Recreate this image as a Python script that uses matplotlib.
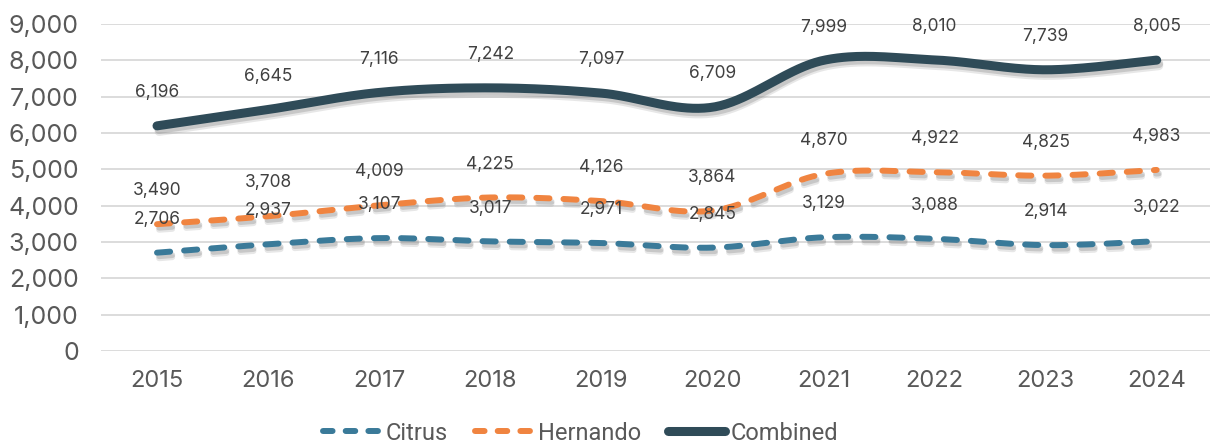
import numpy as np
import matplotlib
matplotlib.use("Agg")
import matplotlib.pyplot as plt
import matplotlib.patheffects as pe
from matplotlib.lines import Line2D

years = ["2015", "2016", "2017", "2018", "2019", "2020", "2021", "2022", "2023", "2024"]
citrus = [2706, 2937, 3107, 3017, 2971, 2845, 3129, 3088, 2914, 3022]
hernando = [3490, 3708, 4009, 4225, 4126, 3864, 4870, 4922, 4825, 4983]
combined = [6196, 6645, 7116, 7242, 7097, 6709, 7999, 8010, 7739, 8005]

plt.rcParams['font.family'] = ['Inter', 'DejaVu Sans']
text_col = '#595959'


# Excel-like smoothed line: cubic bezier segments with catmull-rom control points
def smooth(x, y, n=40):
    x = np.asarray(x, float)
    y = np.asarray(y, float)
    xs, ys = [], []
    for i in range(len(x) - 1):
        p0 = (x[max(i - 1, 0)], y[max(i - 1, 0)])
        p1 = (x[i], y[i])
        p2 = (x[i + 1], y[i + 1])
        p3 = (x[min(i + 2, len(x) - 1)], y[min(i + 2, len(x) - 1)])
        c1 = (p1[0] + (p2[0] - p0[0]) / 6, p1[1] + (p2[1] - p0[1]) / 6)
        c2 = (p2[0] - (p3[0] - p1[0]) / 6, p2[1] - (p3[1] - p1[1]) / 6)
        t = np.linspace(0, 1, n, endpoint=(i == len(x) - 2))
        a, b, c, d = (1 - t) ** 3, 3 * (1 - t) ** 2 * t, 3 * (1 - t) * t ** 2, t ** 3
        xs.append(a * p1[0] + b * c1[0] + c * c2[0] + d * p2[0])
        ys.append(a * p1[1] + b * c1[1] + c * c2[1] + d * p2[1])
    return np.concatenate(xs), np.concatenate(ys)


fig = plt.figure(figsize=(12.1, 4.48), dpi=100)
ax = fig.add_axes([0.0835, 0.2165, 0.9165, 0.73])

x = np.arange(len(years))
shadow = [pe.SimpleLineShadow(offset=(1.5, -4), shadow_color='#a0a0a0', alpha=0.25),
          pe.SimpleLineShadow(offset=(1.5, -2.5), shadow_color='#808080', alpha=0.3),
          pe.Normal()]

series = [
    ("Citrus", citrus, '#3A7A99', 4.3, (0, (2.2, 2.35))),
    ("Hernando", hernando, '#F08440', 4.3, (0, (2.2, 2.35))),
    ("Combined", combined, '#2F4B58', 6.5, '-'),
]

handles = []
for name, vals, col, lw, ls in series:
    sx, sy = smooth(x, vals)
    ax.plot(sx, sy, color=col, lw=lw, ls=ls, dash_capstyle='round',
            solid_capstyle='round', path_effects=shadow, zorder=3)
    for xi, v in zip(x, vals):
        ax.annotate(f"{v:,}", (xi, v), xytext=(0, 24), textcoords='offset points',
                    ha='center', va='center', fontsize=12.5, color='#404040', zorder=4)
    hls = (0, (1.6, 2.2)) if ls != '-' else '-'
    handles.append(Line2D([], [], color=col, lw=lw, ls=hls,
                          dash_capstyle='round', solid_capstyle='round'))

ax.set_xlim(-0.504, 9.48)
ax.set_ylim(0, 9000)
ax.set_yticks(range(0, 9001, 1000))
ax.yaxis.set_major_formatter(matplotlib.ticker.FuncFormatter(lambda v, p: f"{int(v):,}"))
ax.set_xticks(x)
ax.set_xticklabels(years)
ax.tick_params(axis='both', length=0, labelcolor=text_col)
ax.tick_params(axis='x', pad=14, labelsize=17)
ax.tick_params(axis='y', pad=16, labelsize=18)
ax.grid(axis='y', color='#D9D9D9', lw=1.3)
ax.set_axisbelow(True)
for s in ax.spines.values():
    s.set_visible(False)

leg = fig.legend(handles, [s[0] for s in series], loc='center', bbox_to_anchor=(0.48, 0.033),
                 ncol=3, frameon=False, prop={'family': 'Roboto', 'size': 17},
                 handlelength=2.4, handletextpad=0.25, columnspacing=1.15,
                 labelcolor=text_col)

fig.savefig("out.png", dpi=100)
